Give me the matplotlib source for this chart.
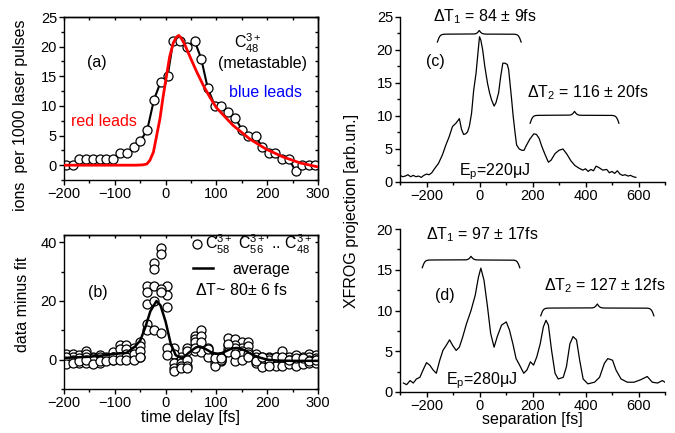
import matplotlib
matplotlib.use('Agg')
import matplotlib.pyplot as plt
from matplotlib.ticker import MultipleLocator, NullFormatter
import numpy as np

plt.rcParams['font.family'] = ['Liberation Sans', 'DejaVu Sans']
plt.rcParams['mathtext.fontset'] = 'custom'
plt.rcParams['mathtext.rm'] = 'Liberation Sans'
plt.rcParams['mathtext.it'] = 'Liberation Sans:italic'
plt.rcParams['mathtext.bf'] = 'Liberation Sans:bold'
plt.rcParams['axes.linewidth'] = 1.0

# ---- (a) C48 3+ yield vs delay
delay_a = [-197, -183, -170, -157, -143, -130, -117, -103, -90, -76, -63, -50, -36, -23, -10,
           4, 15, 28, 43, 57, 70, 83, 97, 110, 123, 137, 150, 163, 177, 190, 203, 216, 230,
           243, 256, 269, 282, 295]
ions_a = [0, 0, 1, 1, 1, 1, 1, 1, 2, 2, 3, 4, 6, 11, 14,
          15, 21, 21, 20, 21, 18, 13, 10, 10, 9, 8, 6, 5, 5, 3, 2, 2, 1,
          1, -1, 0, 0, 0]

# red fit curve
fit_x = [-200, -150, -100, -60, -45, -37, -31, -24, -18, -11, -5, 2, 8, 15, 21, 26, 31, 38,
         48, 61, 74, 87, 100, 133, 166, 198, 231, 264, 300]
fit_y = [0, 0, 0, 0, 0.05, 0.2, 0.8, 2.2, 4.8, 7.9, 11.5, 15.2, 18.3, 20.6, 21.6, 21.9, 21.4, 20.3,
         18.3, 15.8, 13.5, 11.5, 9.7, 6.7, 4.4, 2.7, 1.4, 0.4, -0.3]

# ---- (b) data minus fit, C58 ... C48
delay_b = [-197, -183, -170, -157, -143, -130, -117, -103, -90, -77, -63, -50, -37, -23, -10,
           3, 17, 30, 43, 57, 70, 83, 97, 110, 123, 137, 150, 163, 177, 190, 203, 217, 230,
           243, 257, 270, 283, 297]
c58 = [2, 2, 1.5, 3, 1, 1.5, 1, 2.5, 5, 5, 4, 6, 25, 33, 38,
       25, 4, 1, 4, 8, 10, 4, 1, 1, 7.5, 7, 6, 6, 2, 1, 1, 1, 3,
       1, 1.5, 1, 2, 1.5]
c56 = [0.5, 1, 0, 2, 0.5, 0, 0.5, 1, 3.5, 3.5, 3, 4.5, 23, 31, 36,
       22, 2, 0, 3, 7, 8, 3, 0, -0.5, 5, 5, 4, 4.5, 1, 0, 0.5, 0, 0.5,
       0, 0, -0.5, 1, 0.5]
c54 = [-0.5, -0.5, -1, 1, -1, 1, 0, 0, 1, 2, 1, 1, 19, 25, 24,
       18, -1, -1, 0, 6, 4.5, 2, -1, 1, 3.5, 4, 3, 2.5, 0, -1, -1, -1, -0.5,
       -1, -1, 0, 0, 0]
c50 = [1, 0, 0.5, -1, 0, -1, 0.5, 1, 1, 1, 2, 3, 12, 20, 23,
       4, -3, -2, -2, 3, 2.5, 1, -2, 0, 5.5, -0.5, 2, 2, -1, -2.5, 0, -2, -2,
       -1.5, -2, -1.5, -1, -1]
c48 = [-1.5, -1, -0.5, 0, -1.5, -0.5, -0.5, 0, 0, 0, 0, 1, 10, 10, 9,
       1.5, -4, -3, -3, 4, 6, 3.5, 0.5, 0.5, 2.5, 2, 0, 1, -0.5, 1, -2, 1, 1,
       0, 0.5, 0.5, -0.5, 0]
avg_x = [-200, -150, -120, -100, -77, -60, -50, -40, -30, -18, -10, 0, 10, 20, 32, 40, 50,
         60, 68, 80, 90, 100, 110, 120, 130, 140, 150, 160, 170, 180, 190, 200, 220, 250, 300]
avg_y = [0.6, 1, 1.5, 2, 2.3, 4.5, 6.5, 11, 16.5, 20, 18.5, 13, 5.5, 1.5, 0.5, 1.5, 3,
         4.2, 4.5, 3.5, 2.5, 2, 2.2, 3, 3.8, 4, 3.6, 2.8, 1.8, 1, 0.5, 0, -0.3, -0.4, -0.4]

# ---- (c) XFROG projection, Ep = 220 uJ
sep_c = [-300, -290, -280, -270, -260, -250, -240, -230, -220, -210, -200, -190, -180, -170,
         -155, -140, -127, -115, -102, -89, -76, -68, -60, -52, -45, -38, -30, -22, -13, -6, 0,
         5, 12, 20, 30, 38, 45, 55, 62, 72, 80, 88, 96, 105, 110, 115, 120, 127, 134, 140,
         150, 160, 168, 175, 190, 205, 215, 225, 236, 248, 260, 270, 285, 300, 315, 330, 345,
         360, 375, 390, 400, 410, 420, 430, 440, 450, 465, 480, 490, 500, 510, 520, 530, 540,
         550, 560, 570, 580, 590]
proj_c = [1.0, 0.8, 0.9, 1.1, 0.8, 1.0, 0.8, 0.9, 0.7, 1.0, 1.2, 1.1, 1.4, 2.0,
          2.8, 4.1, 5.6, 6.8, 8.4, 8.9, 9.6, 8.0, 7.2, 7.3, 7.6, 8.5, 10.4, 13.9, 16.5, 19.5, 22.0,
          21.5, 20.0, 17.5, 15.0, 13.5, 12.5, 11.5, 12.0, 13.5, 16.0, 18.0, 18.0, 17.8, 17.0, 15.0, 13.0, 10.0, 7.5, 5.6,
          5.0, 4.8, 4.8, 5.4, 6.5, 7.3, 7.2, 6.6, 5.3, 4.1, 3.0, 3.3, 4.3, 4.8, 5.0, 4.2, 3.2,
          2.5, 2.1, 1.8, 2.0, 1.6, 1.9, 1.7, 2.4, 2.2, 1.8, 1.9, 1.4, 1.6, 1.3, 1.7, 1.2, 1.0,
          1.1, 0.9, 1.0, 0.8, 0.7]

# ---- (d) XFROG projection, Ep = 280 uJ
sep_d = [-287, -275, -262, -250, -238, -225, -213, -200, -188, -175, -163, -150, -138, -126,
         -113, -101, -88, -76, -63, -49, -32, -16, -4, 5, 17, 30, 42, 55, 67, 83, 101, 113,
         126, 138, 148, 167, 179, 192, 204, 216, 229, 241, 251, 260, 272, 285, 297, 316,
         328, 341, 353, 366, 378, 391, 409, 434, 453, 471, 484, 502, 515, 534, 558, 583,
         608, 633, 652, 672, 690, 700]
proj_d = [1.1, 0.9, 1.4, 1.1, 1.6, 1.8, 2.7, 3.6, 3.3, 2.7, 2.3, 3.9, 5.1, 5.7,
          6.4, 5.7, 5.1, 5.5, 6.8, 8.4, 10.0, 11.9, 14.1, 15.2, 13.7, 10.5, 7.2, 5.5, 6.8, 8.2, 8.6, 7.6,
          5.9, 4.1, 3.5, 2.3, 2.7, 3.7, 3.3, 4.3, 5.9, 8.0, 8.8, 8.2, 5.1, 2.3, 1.6, 1.8,
          3.1, 5.9, 6.8, 6.4, 3.9, 1.6, 1.0, 1.2, 1.8, 3.5, 4.1, 3.9, 2.7, 1.6, 1.2, 1.2,
          1.5, 1.9, 1.2, 1.1, 1.4, 1.2]

fig = plt.figure(figsize=(6.75, 4.33), dpi=100)
ax_a = fig.add_axes([0.0948, 0.5843, 0.3763, 0.3764])
ax_b = fig.add_axes([0.0948, 0.1016, 0.3763, 0.3557])
ax_c = fig.add_axes([0.5926, 0.5797, 0.3926, 0.3811])
ax_d = fig.add_axes([0.5926, 0.0947, 0.3926, 0.3764])


def set_ticks(ax, xmaj, xmin, ymaj, ymin):
    ax.xaxis.set_major_locator(MultipleLocator(xmaj))
    ax.xaxis.set_minor_locator(MultipleLocator(xmin))
    ax.yaxis.set_major_locator(MultipleLocator(ymaj))
    ax.yaxis.set_minor_locator(MultipleLocator(ymin))
    ax.tick_params(which='major', direction='out', length=3.5, width=1, pad=1.5, labelsize=10.5)
    ax.tick_params(which='minor', direction='out', length=2.2, width=1)


def boxed_ticks(ax, xmaj, xmin, ymaj, ymin):
    set_ticks(ax, xmaj, xmin, ymaj, ymin)
    # inward ticks on the top and right frame
    top = ax.secondary_xaxis('top')
    top.xaxis.set_major_locator(MultipleLocator(xmin))
    top.xaxis.set_major_formatter(NullFormatter())
    top.tick_params(direction='in', length=2.5, width=1)
    right = ax.secondary_yaxis('right')
    right.yaxis.set_major_locator(MultipleLocator(ymin))
    right.yaxis.set_major_formatter(NullFormatter())
    right.tick_params(direction='in', length=2.5, width=1)


def open_ticks(ax, ymaj, ymin):
    ax.spines['top'].set_visible(False)
    ax.spines['right'].set_visible(False)
    set_ticks(ax, 200, 100, ymaj, ymin)


def brace(ax, x0, x1, y, h_end, h_tip, s=5.0):
    # curly brace over [x0, x1]: ends bend down by h_end, middle tip points up by h_tip
    xs = np.linspace(x0, x1, 601)
    mid = 0.5 * (x0 + x1)
    half = xs[:301]
    sig_end = 1.0 / (1.0 + np.exp(-(half - x0) / s))
    sig_mid = 1.0 / (1.0 + np.exp(-(half - mid) / s))
    yh = y - 2 * h_end * (1 - sig_end) + 2 * h_tip * sig_mid
    yy = np.concatenate((yh, yh[-2::-1]))
    ax.plot(xs, yy, color='k', lw=0.9)


# (a)
ax_a.plot(fit_x, fit_y, color='#ff0000', lw=2.0, zorder=3)
ax_a.plot(delay_a, ions_a, color='k', lw=1.5, marker='o', ms=6.5, mfc='white', mec='k', mew=0.9,
          zorder=2)
ax_a.set_xlim(-200, 300)
ax_a.set_ylim(-2.5, 25)
boxed_ticks(ax_a, 100, 50, 5, 2.5)
ax_a.set_ylabel('ions  per 1000 laser pulses', fontsize=11.5)
ax_a.yaxis.set_label_coords(-0.142, 0.40)
ax_a.text(-135, 17.4, '(a)', fontsize=11.5, ha='center', va='center')
ax_a.text(162, 20.6, r'C$_{48}^{3+}$', fontsize=11.5, ha='center', va='center')
ax_a.text(190, 17.2, '(metastable)', fontsize=11.5, ha='center', va='center')
ax_a.text(196, 12.2, 'blue leads', fontsize=11.5, ha='center', va='center', color='#0000ff')
ax_a.text(-121, 7.3, 'red leads', fontsize=11.5, ha='center', va='center', color='#ff0000')

# (b)
circ = None
for vals in (c58, c56, c54, c50, c48):
    h, = ax_b.plot(delay_b, vals, ls='none', marker='o', ms=6.5, mfc='white', mec='k', mew=0.9)
    if circ is None:
        circ = h
avg_line, = ax_b.plot(avg_x, avg_y, color='k', lw=1.8)
ax_b.set_xlim(-200, 300)
ax_b.set_ylim(-10, 42.5)
boxed_ticks(ax_b, 100, 50, 20, 10)
ax_b.set_xlabel('time delay [fs]', fontsize=11.5)
ax_b.xaxis.set_label_coords(0.5, -0.135)
ax_b.set_ylabel('data minus fit', fontsize=11.5)
ax_b.yaxis.set_label_coords(-0.134, 0.55)
ax_b.text(-133, 23, '(b)', fontsize=11.5, ha='center', va='center')
leg1 = ax_b.legend([circ], [r'C$_{58}^{3+}$ C$_{56}^{3+}$ .. C$_{48}^{3+}$'],
                   loc='upper left', bbox_to_anchor=(0.508, 1.015), frameon=False, fontsize=11.5,
                   handlelength=0.5, handletextpad=0.25, borderpad=0, borderaxespad=0)
ax_b.add_artist(leg1)
ax_b.legend([avg_line], ['average'], loc='center left', bbox_to_anchor=(0.508, 0.779),
            frameon=False, fontsize=11.5, handlelength=1.25, handletextpad=1.2, borderpad=0,
            borderaxespad=0)
ax_b.text(58, 23.7, r'$\Delta$T~ 80$\pm$ 6 fs', fontsize=11.5, ha='left', va='center')

# (c)
ax_c.plot(sep_c, proj_c, color='k', lw=0.9)
ax_c.set_xlim(-300, 700)
ax_c.set_ylim(0, 25)
open_ticks(ax_c, 5, 2.5)
brace(ax_c, -159, 157, 22.4, 1.2, 0.55)
brace(ax_c, 191, 526, 10.1, 1.2, 0.6)
ax_c.text(19, 25.1, r'$\Delta$T$_1$ = 84 $\pm$ 9fs', fontsize=11.5, ha='center', va='center')
ax_c.text(408, 13.5, r'$\Delta$T$_2$ = 116 $\pm$ 20fs', fontsize=11.5, ha='center', va='center')
ax_c.text(-166, 18.3, '(c)', fontsize=11.5, ha='center', va='center')
ax_c.text(57, 1.6, 'E$_\\mathrm{p}$=220\u03bcJ', fontsize=11.5, ha='center', va='center')

# (d)
ax_d.plot(sep_d, proj_d, color='k', lw=0.9)
ax_d.set_xlim(-300, 700)
ax_d.set_ylim(0, 20)
open_ticks(ax_d, 5, 2.5)
brace(ax_d, -216, 152, 16.2, 0.95, 0.45)
brace(ax_d, 231, 658, 10.3, 0.95, 0.5)
ax_d.text(11, 19.3, r'$\Delta$T$_1$ = 97 $\pm$ 17fs', fontsize=11.5, ha='center', va='center')
ax_d.text(471, 13.1, r'$\Delta$T$_2$ = 127 $\pm$ 12fs', fontsize=11.5, ha='center', va='center')
ax_d.text(-132, 11.9, '(d)', fontsize=11.5, ha='center', va='center')
ax_d.text(9, 1.4, 'E$_\\mathrm{p}$=280\u03bcJ', fontsize=11.5, ha='center', va='center')
ax_d.set_xlabel('separation [fs]', fontsize=11.5)
ax_d.xaxis.set_label_coords(0.5, -0.125)

fig.text(352 / 675, 1 - 211 / 433, 'XFROG projection [arb.un.]', rotation=90,
         fontsize=11.5, ha='center', va='center')

fig.savefig('out.png', dpi=100)
